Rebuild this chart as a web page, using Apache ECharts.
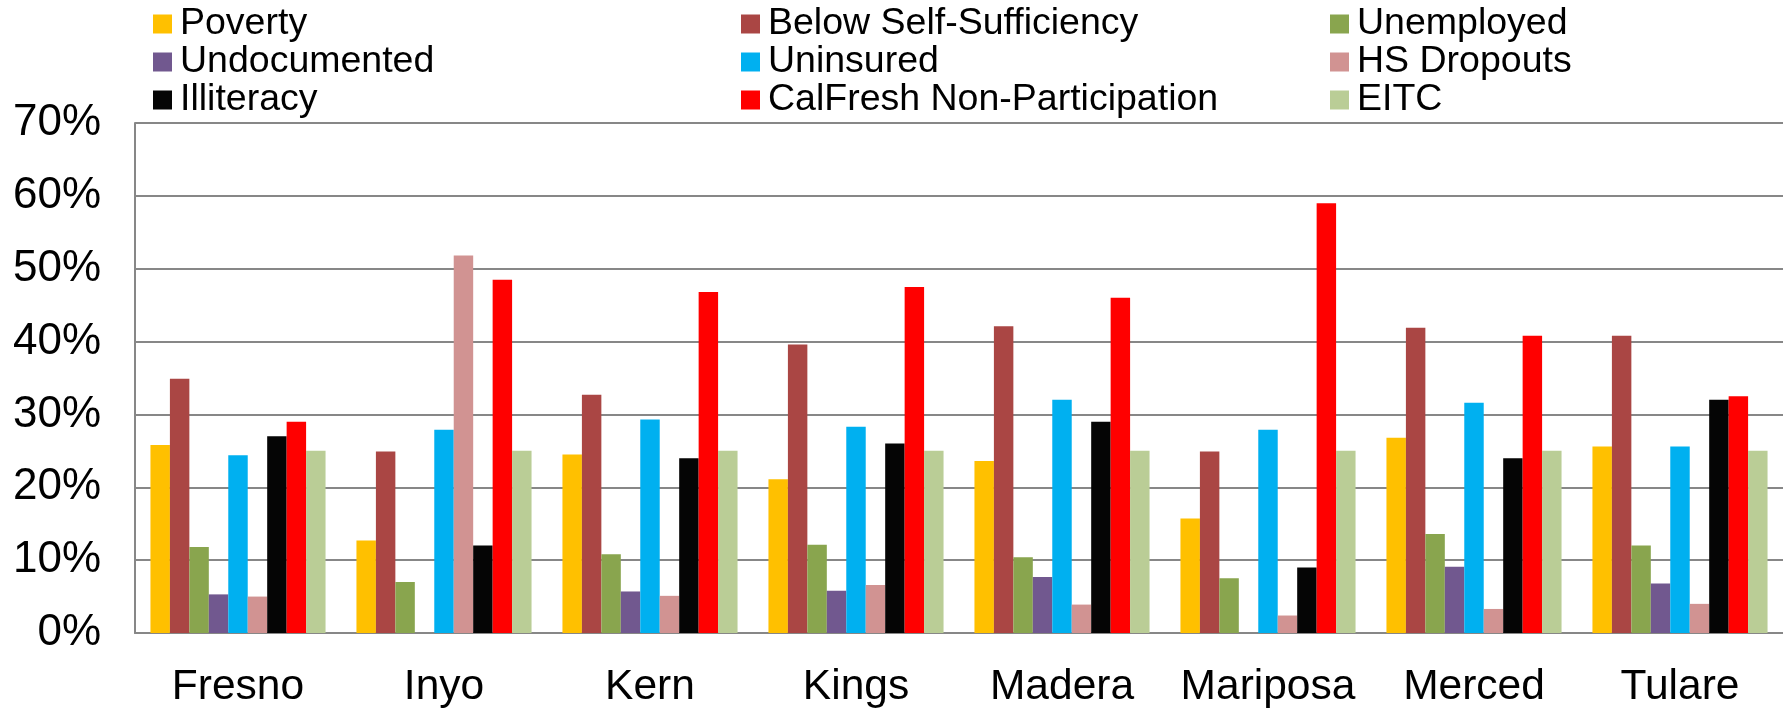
<!DOCTYPE html>
<html>
  <head>
    <meta charset="UTF-8" />
    <title>County indicators</title>
    <script src="https://cdn.jsdelivr.net/npm/echarts@6.0.0/dist/echarts.min.js"></script>
    <style>
      html, body { margin: 0; padding: 0; background: #fff; }
    </style>
  </head>
  <body>
    <div id="countyChart" style="width: 1783px; height: 709px"></div>
  </body>
  <script>
// counties along the x axis
const counties = ['Fresno', 'Inyo', 'Kern', 'Kings', 'Madera', 'Mariposa', 'Merced', 'Tulare'];

// values in percent (null = no bar)
const poverty       = [25.8, 12.7, 24.5, 21.1, 23.6, 15.7, 26.8, 25.6];
const belowSelfSuff = [34.9, 24.9, 32.7, 39.6, 42.1, 24.9, 41.9, 40.8];
const unemployed    = [11.8, 7.0, 10.8, 12.1, 10.4, 7.5, 13.6, 12.0];
const undocumented  = [5.3, null, 5.7, 5.8, 7.7, null, 9.1, 6.8];
const uninsured     = [24.4, 27.9, 29.3, 28.3, 32.0, 27.9, 31.6, 25.6];
const hsDropouts    = [5.0, 51.8, 5.1, 6.6, 3.9, 2.4, 3.3, 4.0];
const illiteracy    = [27.0, 12.0, 24.0, 26.0, 29.0, 9.0, 24.0, 32.0];
const calFreshNon   = [29.0, 48.5, 46.8, 47.5, 46.0, 59.0, 40.8, 32.5];
const eitc          = [25.0, 25.0, 25.0, 25.0, 25.0, 25.0, 25.0, 25.0];

const yTicks = [0, 10, 20, 30, 40, 50, 60, 70];

const seriesList = [
  { name: 'Poverty', data: poverty, color: '#FFC000' },
  { name: 'Below Self-Sufficiency', data: belowSelfSuff, color: '#AA4644' },
  { name: 'Unemployed', data: unemployed, color: '#89A54E' },
  { name: 'Undocumented', data: undocumented, color: '#71588F' },
  { name: 'Uninsured', data: uninsured, color: '#00B0F0' },
  { name: 'HS Dropouts', data: hsDropouts, color: '#D19392' },
  { name: 'Illiteracy', data: illiteracy, color: '#050505' },
  { name: 'CalFresh Non-Participation', data: calFreshNon, color: '#FF0000' },
  { name: 'EITC', data: eitc, color: '#BACD96' }
];

const font = '"Liberation Sans", Arial, sans-serif';
const axisGray = '#878787';

// legend is laid out in three columns, filled row by row
function legendColumn(col, left) {
  return {
    orient: 'vertical',
    left: left,
    top: 5,
    padding: 0,
    itemWidth: 19,
    itemHeight: 19,
    itemGap: 0,
    icon: 'rect',
    selectedMode: false,
    textStyle: {
      fontFamily: font,
      fontSize: 37.5,
      lineHeight: 38,
      color: '#000',
      padding: [0, 0, 0, 3]
    },
    data: seriesList.filter((s, i) => i % 3 === col).map(s => s.name)
  };
}

let myChart = echarts.init(document.getElementById('countyChart'));

myChart.setOption({
  animation: false,
  legend: [legendColumn(0, 153), legendColumn(1, 741), legendColumn(2, 1330)],
  grid: {
    left: 135,
    right: -4,
    top: 123,
    bottom: 74,
    containLabel: false
  },
  xAxis: {
    type: 'category',
    data: counties,
    axisLine: { show: true, lineStyle: { color: axisGray, width: 2 } },
    axisTick: { show: false },
    axisLabel: {
      interval: 0,
      fontFamily: font,
      fontSize: 42.5,
      color: '#000',
      margin: 33
    }
  },
  yAxis: {
    type: 'value',
    min: yTicks[0],
    max: yTicks[yTicks.length - 1],
    interval: 10,
    axisLine: { show: true, lineStyle: { color: axisGray, width: 2 } },
    axisTick: { show: false },
    splitLine: { lineStyle: { color: axisGray, width: 2 } },
    axisLabel: {
      formatter: '{value}%',
      fontFamily: font,
      fontSize: 44,
      color: '#000',
      margin: 34
    }
  },
  series: seriesList.map(s => ({
    name: s.name,
    type: 'bar',
    data: s.data,
    barGap: '0%',
    barCategoryGap: '15%',
    itemStyle: { color: s.color }
  }))
});
  </script>
</html>
